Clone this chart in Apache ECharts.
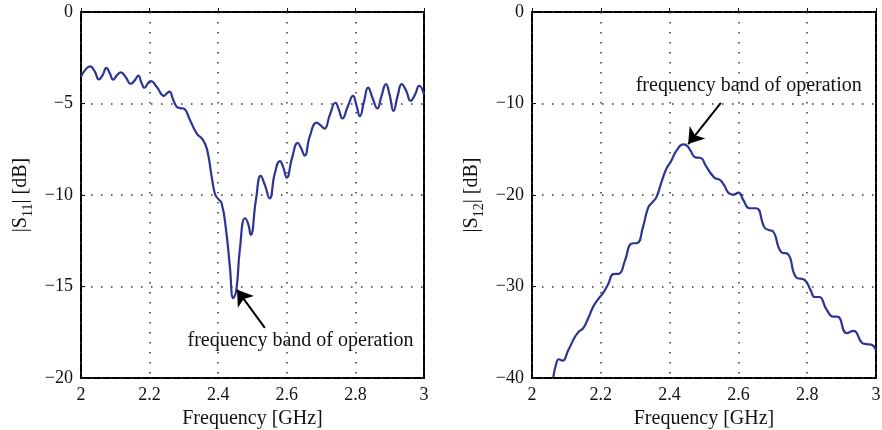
<!DOCTYPE html>
<html>
<head>
<meta charset="utf-8">
<script src="https://cdn.jsdelivr.net/npm/echarts@6/dist/echarts.min.js"></script>
<style>
  body { margin: 0; background: #fff; }
  #chart { width: 882px; height: 430px; }
</style>
</head>
<body>
<div id="chart"></div>
<script>
// |S11| reflection curve
const s11Freq = [2.000, 2.013, 2.026, 2.040, 2.052, 2.063, 2.074, 2.084, 2.094, 2.105,
  2.116, 2.130, 2.145, 2.156, 2.167, 2.176, 2.185, 2.195, 2.203, 2.221,
  2.242, 2.250, 2.258, 2.268, 2.279, 2.290, 2.300, 2.318, 2.337, 2.356,
  2.368, 2.381, 2.390, 2.397, 2.410, 2.424, 2.434, 2.444, 2.453, 2.463,
  2.478, 2.487, 2.495, 2.510, 2.524, 2.536, 2.550, 2.565, 2.580, 2.589,
  2.600, 2.615, 2.632, 2.642, 2.652, 2.667, 2.687, 2.698, 2.710, 2.725,
  2.742, 2.752, 2.762, 2.778, 2.793, 2.803, 2.813, 2.825, 2.837, 2.850,
  2.864, 2.876, 2.889, 2.900, 2.911, 2.923, 2.935, 2.948, 2.961, 2.974,
  2.986, 3.000];
const s11Db = [-3.52, -3.15, -2.97, -3.25, -3.68, -3.45, -3.05, -3.35, -3.70, -3.45,
  -3.30, -3.55, -3.92, -3.75, -3.48, -3.85, -4.14, -3.90, -3.77, -4.10,
  -4.58, -4.45, -4.35, -4.75, -5.18, -5.25, -5.28, -5.91, -6.63, -7.00,
  -7.55, -9.00, -9.90, -10.15, -10.45, -12.09, -13.91, -15.64, -15.18, -13.00,
  -11.27, -11.55, -12.18, -10.27, -8.96, -9.45, -10.18, -8.82, -8.15, -8.45,
  -9.05, -8.00, -7.15, -7.45, -7.85, -6.80, -6.05, -6.18, -6.37, -5.65,
  -4.96, -5.35, -5.82, -5.15, -4.58, -5.10, -5.69, -4.90, -4.13, -4.70,
  -5.27, -4.60, -3.94, -4.55, -5.40, -4.60, -3.94, -4.30, -4.85, -4.50,
  -4.03, -4.50];

// |S12| transmission curve
const s12Freq = [2.062, 2.070, 2.078, 2.089, 2.105, 2.125, 2.137, 2.149, 2.163, 2.178,
  2.192, 2.207, 2.222, 2.236, 2.253, 2.270, 2.290, 2.306, 2.322, 2.338,
  2.350, 2.362, 2.378, 2.391, 2.403, 2.421, 2.440, 2.450, 2.460, 2.475,
  2.491, 2.505, 2.530, 2.546, 2.558, 2.574, 2.586, 2.600, 2.615, 2.632,
  2.652, 2.676, 2.690, 2.700, 2.725, 2.744, 2.768, 2.793, 2.810, 2.822,
  2.835, 2.856, 2.876, 2.888, 2.915, 2.935, 2.959, 2.972, 2.986, 3.000];
const s12Db = [-39.9, -38.5, -37.95, -38.1, -37.0, -35.5, -34.9, -34.55, -33.5, -32.2,
  -31.4, -30.7, -29.7, -28.65, -28.6, -27.2, -25.3, -25.25, -23.6, -21.35,
  -20.8, -20.2, -18.4, -17.1, -16.4, -15.1, -14.47, -14.6, -15.1, -15.89,
  -15.95, -16.8, -18.1, -18.35, -18.9, -19.85, -19.95, -19.75, -20.6, -21.45,
  -21.45, -23.55, -23.85, -23.95, -26.25, -26.45, -29.0, -29.3, -30.4, -31.15,
  -31.15, -32.5, -33.3, -33.3, -35.1, -34.85, -36.15, -36.3, -36.35, -36.95];

// annotation anchors [freq, dB]
const noteText = 'frequency band of operation';
const s11Arrow = [[2.536, -17.26], [2.455, -15.18]];
const s11Label = [2.640, -17.95];
const s12Arrow = [[2.549, -9.93], [2.454, -14.43]];
const s12Label = [2.630, -8.1];

const font = "'Liberation Serif', 'DejaVu Serif', serif";
const ink = '#111';
const blue = '#2c3592';

const zip = (xs, ys) => xs.map((x, i) => [x, ys[i]]);
const minus = v => String(v).replace('-', '\u2212');

const xAxisCfg = (gridIndex) => ({
  type: 'value', gridIndex, min: 2, max: 3, interval: 0.2,
  name: 'Frequency [GHz]', nameLocation: 'middle', nameGap: 28,
  nameTextStyle: { fontFamily: font, fontSize: 20, color: ink },
  axisLine: { show: false },
  axisTick: { inside: true, length: 4, lineStyle: { color: ink } },
  axisLabel: { fontFamily: font, fontSize: 18, color: ink, margin: 8 },
  splitLine: { lineStyle: { color: '#333', width: 1.5, type: [1.5, 8.5] } }
});

const yAxisCfg = (gridIndex, min, interval, sub) => ({
  type: 'value', gridIndex, min, max: 0, interval,
  name: '|S{sub|' + sub + '}| [dB]', nameLocation: 'middle', nameRotate: 90, nameGap: 46,
  nameTextStyle: {
    fontFamily: font, fontSize: 20, color: ink, lineHeight: 28,
    rich: { sub: { fontFamily: font, fontSize: 14, color: ink, verticalAlign: 'bottom', lineHeight: 28 } }
  },
  axisLine: { show: false },
  axisTick: { inside: true, length: 4, lineStyle: { color: ink } },
  axisLabel: { fontFamily: font, fontSize: 18, color: ink, margin: 8, formatter: minus },
  splitLine: { lineStyle: { color: '#333', width: 1.5, type: [1.5, 8.5] } }
});

const arrow = (pts) => ({
  silent: true, symbol: ['none', 'arrow'], symbolSize: 15,
  lineStyle: { color: '#000', width: 2, type: 'solid' },
  label: { show: false },
  data: [[{ coord: pts[0] }, { coord: pts[1] }]]
});

const note = (pt) => ({
  silent: true,
  data: [{
    coord: pt, symbol: 'rect', symbolSize: 1, itemStyle: { color: 'rgba(0,0,0,0)' },
    label: { show: true, position: 'inside', formatter: noteText, fontFamily: font, fontSize: 20, color: ink }
  }]
});

const chart = echarts.init(document.getElementById('chart'));
chart.setOption({
  animation: false,
  backgroundColor: '#fff',
  grid: [
    { left: 81, top: 12, width: 343, height: 366, outerBoundsMode: 'none', show: true, borderColor: '#000', borderWidth: 2, backgroundColor: 'transparent' },
    { left: 532, top: 12, width: 344, height: 366, outerBoundsMode: 'none', show: true, borderColor: '#000', borderWidth: 2, backgroundColor: 'transparent' }
  ],
  xAxis: [xAxisCfg(0), xAxisCfg(1)],
  yAxis: [yAxisCfg(0, -20, 5, '11'), yAxisCfg(1, -40, 10, '12')],
  series: [
    {
      type: 'line', xAxisIndex: 0, yAxisIndex: 0, data: zip(s11Freq, s11Db),
      smooth: 0.5, showSymbol: false, clip: true,
      lineStyle: { color: blue, width: 2.2 },
      markLine: arrow(s11Arrow), markPoint: note(s11Label)
    },
    {
      type: 'line', xAxisIndex: 1, yAxisIndex: 1, data: zip(s12Freq, s12Db),
      smooth: 0.5, showSymbol: false, clip: true,
      lineStyle: { color: blue, width: 2.2 },
      markLine: arrow(s12Arrow), markPoint: note(s12Label)
    }
  ]
});
</script>
</body>
</html>
